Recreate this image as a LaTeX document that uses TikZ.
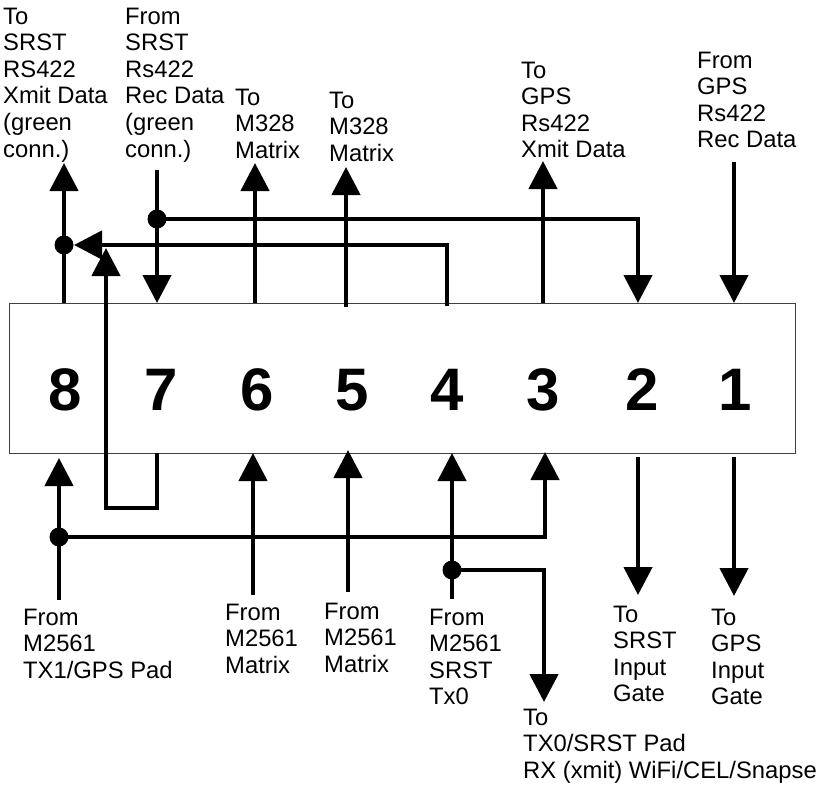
\documentclass[tikz,border=0pt]{standalone}
\usepackage{fontspec}
\setmainfont{Liberation Sans}
\usetikzlibrary{arrows.meta}
\begin{document}
\begin{tikzpicture}[x=1pt,y=-1pt,
  wire/.style={line width=4.5pt},
  arr/.style={wire,-{Triangle[length=28pt,width=28pt]}},
  lbl/.style={anchor=north west,align=left,inner sep=0pt,font=\fontsize{23.8}{26.6}\selectfont},
  num/.style={font=\fontsize{60}{60}\selectfont\bfseries,inner sep=0pt},
  jdot/.style={circle,fill=black,minimum size=19pt,inner sep=0pt}]
\useasboundingbox[fill=white] (0,0) rectangle (821,787);

% connector box
\node (box) [draw=black!75,line width=1.2pt,fill=white,minimum width=786pt,minimum height=150pt,anchor=north west,inner sep=0pt] at (9,303) {};

% pin numbers
\node[num] (n8) at (65,390) {8};
\node[num] (n7) at (161,390) {7};
\node[num] (n6) at (257,390) {6};
\node[num] (n5) at (352,390) {5};
\node[num] (n4) at (447,390) {4};
\node[num] (n3) at (543,390) {3};
\node[num] (n2) at (642,390) {2};
\node[num] (n1) at (735,390) {1};

% coordinates
\coordinate (t8a) at (64,303);   \coordinate (t8b) at (64,163);
\coordinate (t7a) at (157,170);  \coordinate (t7b) at (157,303);
\coordinate (t6a) at (255,303);  \coordinate (t6b) at (255,163);
\coordinate (t5a) at (346,307);  \coordinate (t5b) at (346,167);
\coordinate (t4a) at (447,306);  \coordinate (t4b) at (447,245);
\coordinate (j8h) at (74,245);
\coordinate (t3a) at (543,303);  \coordinate (t3b) at (543,161);
\coordinate (t2c) at (638,219);  \coordinate (t2b) at (638,303);
\coordinate (t1a) at (734,162);  \coordinate (t1b) at (734,303);

\coordinate (b8a) at (59,600);   \coordinate (b8b) at (59,458);
\coordinate (b3c) at (545,537);  \coordinate (b3b) at (545,452);
\coordinate (b7a) at (157,453);  \coordinate (b7c) at (157,508);
\coordinate (b7d) at (106,508);  \coordinate (b7b) at (106,248);
\coordinate (b6a) at (253,595);  \coordinate (b6b) at (253,453);
\coordinate (b5a) at (348,592);  \coordinate (b5b) at (348,450);
\coordinate (b4a) at (452,599);  \coordinate (b4b) at (452,453);
\coordinate (bxc) at (544,570);  \coordinate (bxb) at (544,702);
\coordinate (b2a) at (638,457);  \coordinate (b2b) at (638,595);
\coordinate (b1a) at (734,457);  \coordinate (b1b) at (734,596);

% junction dots
\node[jdot] (d8) at (64,245) {};
\node[jdot] (d7) at (157,219) {};
\node[jdot] (db8) at (59,537) {};
\node[jdot] (db4) at (452,570) {};

% top connectors
\draw[arr] (t8a) -- (t8b);
\draw[arr] (t7a) -- (t7b);
\draw[arr] (d7.center) -- (t2c) -- (t2b);
\draw[arr] (t6a) -- (t6b);
\draw[arr] (t5a) -- (t5b);
\draw[arr] (t4a) -- (t4b) -- (j8h);
\draw[arr] (t3a) -- (t3b);
\draw[arr] (t1a) -- (t1b);

% bottom connectors
\draw[arr] (b8a) -- (b8b);
\draw[arr] (db8.center) -- (b3c) -- (b3b);
\draw[arr] (b7a) -- (b7c) -- (b7d) -- (b7b);
\draw[arr] (b6a) -- (b6b);
\draw[arr] (b5a) -- (b5b);
\draw[arr] (b4a) -- (b4b);
\draw[arr] (db4.center) -- (bxc) -- (bxb);
\draw[arr] (b2a) -- (b2b);
\draw[arr] (b1a) -- (b1b);

% top labels
\node[lbl] (la) at (3,7.5) {To\\SRST\\RS422\\Xmit Data\\(green\\conn.)};
\node[lbl] (lb) at (125,7.5) {From\\SRST\\Rs422\\Rec Data\\(green\\conn.)};
\node[lbl] (lc) at (235,88.5) {To\\M328\\Matrix};
\node[lbl] (ld) at (329,91.5) {To\\M328\\Matrix};
\node[lbl] (le) at (521,61.5) {To\\GPS\\Rs422\\Xmit Data};
\node[lbl] (lf) at (697,51.5) {From\\GPS\\Rs422\\Rec Data};

% bottom labels
\node[lbl] (lg) at (23,608.5) {From\\M2561\\TX1/GPS Pad};
\node[lbl] (lh) at (225,603.5) {From\\M2561\\Matrix};
\node[lbl] (li) at (324,602.5) {From\\M2561\\Matrix};
\node[lbl] (lj) at (429,608.5) {From\\M2561\\SRST\\Tx0};
\node[lbl] (lk) at (523,708.5) {To\\TX0/SRST Pad\\RX (xmit) WiFi/CEL/Snapse};
\node[lbl] (ll) at (613,605.5) {To\\SRST\\Input\\Gate};
\node[lbl] (lm) at (711,608.5) {To\\GPS\\Input\\Gate};
\end{tikzpicture}
\end{document}
